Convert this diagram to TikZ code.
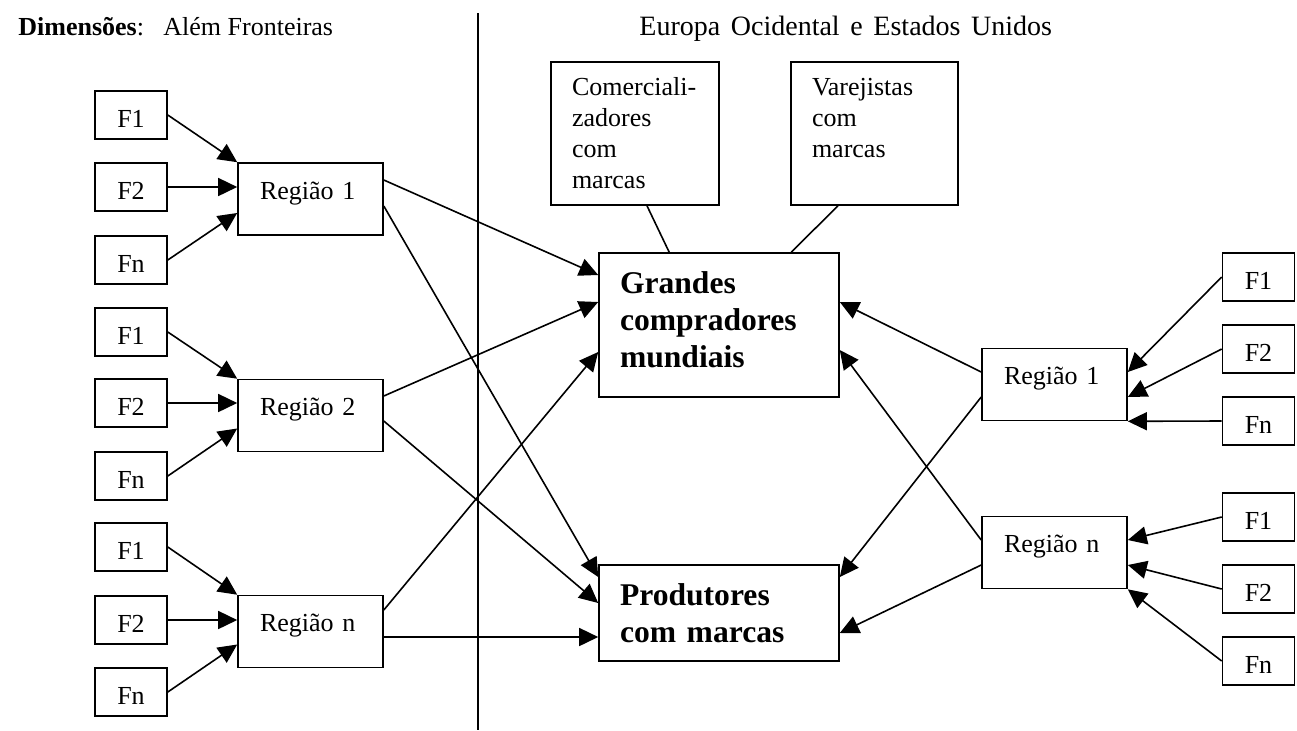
\documentclass[tikz,border=0pt]{standalone}
\usepackage{fontspec}
\setmainfont{Liberation Serif}
\usetikzlibrary{arrows.meta,calc}

\begin{document}
\begin{tikzpicture}[x=0.5pt,y=-0.5pt,
  font=\fontsize{13}{15.5}\selectfont,
  caixa/.style={draw, line width=0.8pt, inner ysep=0pt},
  fonte/.style={caixa, minimum width=36pt, text height=18pt, text depth=6pt, inner xsep=0pt},
  regiao/.style={caixa, inner xsep=11pt, text width=50.5pt, align=left, text height=18pt, text depth=18pt},
  grande/.style={caixa, inner xsep=10.5pt, text width=99pt, align=left, font=\fontsize{15.8}{18.5}\selectfont\bfseries},
  nota/.style={caixa, inner xsep=10.5pt, align=left, text height=16.5pt, text depth=55pt},
  titulo/.style={anchor=base west, inner sep=0pt},
  seta/.style={line width=0.8pt, -{Triangle[length=9.5pt,width=9pt]}},
  liga/.style={line width=0.8pt}]
\useasboundingbox (0,0) rectangle (1297,730);

% titulos e divisoria
\node (dim) [titulo] at (18,35) {\textbf{Dimensões}:};
\node (alem) [titulo] at (163,35) {Além Fronteiras};
\node (europa) [titulo, font=\fontsize{14}{17}\selectfont] at (639,35) {\spaceskip=0.38em Europa Ocidental e Estados Unidos};
\coordinate (divtopo) at (478,13);
\coordinate (divbase) at (478,730);
\draw[liga] (divtopo) -- (divbase);

% alem fronteiras
\node (e1f1) [fonte] at (131,115) {F1};
\node (e1f2) [fonte] at (131,187) {F2};
\node (e1fn) [fonte] at (131,260) {Fn};
\node (e1reg) [regiao] at (310.5,199) {Região 1};

\node (e2f1) [fonte] at (131,332) {F1};
\node (e2f2) [fonte] at (131,403) {F2};
\node (e2fn) [fonte] at (131,476) {Fn};
\node (e2reg) [regiao] at (310.5,415.5) {Região 2};

\node (enf1) [fonte] at (131,547) {F1};
\node (enf2) [fonte] at (131,620) {F2};
\node (enfn) [fonte] at (131,692) {Fn};
\node (enreg) [regiao] at (310.5,631.5) {Região n};

% compradores e produtores
\node (comerc) [nota, text width=63pt] at (635,133.5) {Comerciali-\\zadores\\com\\marcas};
\node (varej) [nota, text width=62.5pt] at (874.5,133.5) {Varejistas\\com\\marcas};
\node (grandes) [grande, text height=20pt, text depth=52pt] at (719,325) {Grandes\\compradores\\mundiais};
\node (produtores) [grande, text height=20pt, text depth=28pt] at (719,613) {Produtores\\com marcas};

% europa e estados unidos
\node (d1f1) [fonte] at (1258.5,277) {F1};
\node (d1f2) [fonte] at (1258.5,349) {F2};
\node (d1fn) [fonte] at (1258.5,421) {Fn};
\node (d1reg) [regiao] at (1054.5,384.5) {Região 1};

\node (dnf1) [fonte] at (1258.5,517) {F1};
\node (dnf2) [fonte] at (1258.5,589) {F2};
\node (dnfn) [fonte] at (1258.5,661) {Fn};
\node (dnreg) [regiao] at (1054.5,552.5) {Região n};

% setas das fontes
\draw[seta] (e1f1.east) -- (e1reg.north west);
\draw[seta] (e1f2.east) -- (e1f2.east -| e1reg.west);
\draw[seta] (e1fn.east) -- ($(e1reg.west)+(0,14)$);
\draw[seta] (e2f1.east) -- (e2reg.north west);
\draw[seta] (e2f2.east) -- (e2f2.east -| e2reg.west);
\draw[seta] (e2fn.east) -- ($(e2reg.west)+(0,13)$);
\draw[seta] (enf1.east) -- (enreg.north west);
\draw[seta] (enf2.east) -- (enf2.east -| enreg.west);
\draw[seta] (enfn.east) -- ($(enreg.west)+(0,13)$);

\draw[seta] (d1f1.west) -- ($(d1reg.east)+(0,-12.5)$);
\draw[seta] (d1f2.west) -- ($(d1reg.east)+(0,12.5)$);
\draw[seta] (d1fn.west) -- (d1reg.south east);
\draw[seta] (dnf1.west) -- ($(dnreg.east)+(0,-12.5)$);
\draw[seta] (dnf2.west) -- ($(dnreg.east)+(0,12.5)$);
\draw[seta] (dnfn.west) -- (dnreg.south east);

% setas das regioes
\draw[seta] ($(e1reg.east)+(0,-19)$) -- ($(grandes.west)+(0,-50)$);
\draw[seta] ($(e1reg.east)+(0,7)$) -- ($(produtores.west)+(0,-36)$);
\draw[seta] ($(e2reg.east)+(0,-19.5)$) -- ($(grandes.west)+(0,-23)$);
\draw[seta] ($(e2reg.east)+(0,5.5)$) -- ($(produtores.west)+(0,-10)$);
\draw[seta] ($(enreg.east)+(0,-21.5)$) -- ($(grandes.west)+(0,27)$);
\draw[seta] ($(enreg.east)+(0,5.5)$) -- ($(produtores.west)+(0,24)$);
\draw[seta] ($(d1reg.west)+(0,-12.5)$) -- ($(grandes.east)+(0,-23)$);
\draw[seta] ($(d1reg.west)+(0,12.5)$) -- ($(produtores.east)+(0,-36)$);
\draw[seta] ($(dnreg.west)+(0,-12.5)$) -- ($(grandes.east)+(0,25)$);
\draw[seta] ($(dnreg.west)+(0,12.5)$) -- ($(produtores.east)+(0,20)$);

% ligacoes sem seta
\draw[liga] ($(comerc.south)+(12,0)$) -- ($(grandes.north west)+(71,0)$);
\draw[liga] ($(varej.south)+(-36.5,0)$) -- ($(grandes.north west)+(193,0)$);
\end{tikzpicture}
\end{document}
